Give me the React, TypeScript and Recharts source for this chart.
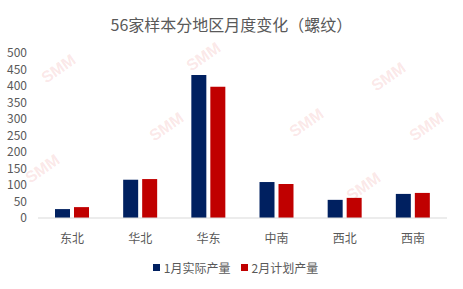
import React from "react";
import { BarChart, Bar, XAxis, YAxis, CartesianGrid } from "recharts";

const categories = ["东北", "华北", "华东", "中南", "西北", "西南"];
const janActual = [27, 116, 433, 109, 55, 73];
const febPlan = [33, 118, 398, 103, 61, 76];
const yTicks = [0, 50, 100, 150, 200, 250, 300, 350, 400, 450, 500];
const seriesNames = ["1月实际产量", "2月计划产量"];
const title = "56家样本分地区月度变化（螺纹）";

const data = categories.map((c, i) => ({ name: c, a: janActual[i], b: febPlan[i] }));

const FONT = '"Noto Sans CJK SC", "Microsoft YaHei", sans-serif';
const NAVY = "#002060";
const RED = "#C00000";

const marks = [
  [60, 70], [205, 58], [390, 78], [168, 128], [308, 124], [428, 128], [44, 170], [365, 188],
];

export default function App() {
  return (
    <div style={{ position: "absolute", left: 0, top: 0, width: 463, height: 289, background: "#fff", fontFamily: FONT, overflow: "hidden" }}>
      <div style={{ position: "absolute", left: 0, top: 12, width: 463, textAlign: "center", fontSize: 16, color: "#595959" }}>
        {title}
      </div>
      {marks.map(([x, y], i) => (
        <div key={i} style={{ position: "absolute", left: x - 20, top: y - 10, fontSize: 16, fontWeight: 700, color: "rgba(235,120,120,0.18)", transform: "rotate(-35deg)", fontFamily: "Arial, sans-serif", pointerEvents: "none" }}>
          SMM
        </div>
      ))}
      <div style={{ position: "absolute", left: 0, top: 0 }}>
        <BarChart width={463} height={289} data={data} margin={{ top: 53, right: 16, left: 0, bottom: 41 }} barSize={15} barGap={4}>
          <CartesianGrid vertical={false} horizontal={false} />
          <XAxis dataKey="name" height={30} tickLine={false} axisLine={{ stroke: "#D9D9D9" }} tickMargin={10} tick={{ fill: "#595959", fontSize: 12, fontFamily: FONT }} />
          <YAxis width={38} domain={[0, 500]} ticks={yTicks} interval={0} axisLine={false} tickLine={false} tickMargin={5} tick={{ fill: "#595959", fontSize: 12, fontFamily: FONT }} />
          <Bar dataKey="a" name={seriesNames[0]} fill={NAVY} isAnimationActive={false} />
          <Bar dataKey="b" name={seriesNames[1]} fill={RED} isAnimationActive={false} />
        </BarChart>
      </div>
      <div style={{ position: "absolute", left: 0, top: 259, width: 463, display: "flex", justifyContent: "center", paddingLeft: 4, fontSize: 12, color: "#595959" }}>
        {seriesNames.map((n, i) => (
          <div key={n} style={{ display: "flex", alignItems: "center", marginRight: i === 0 ? 10 : 0 }}>
            <span style={{ display: "inline-block", width: 7, height: 7, background: i === 0 ? NAVY : RED, marginRight: 4 }} />
            <span>{n}</span>
          </div>
        ))}
      </div>
    </div>
  );
}
